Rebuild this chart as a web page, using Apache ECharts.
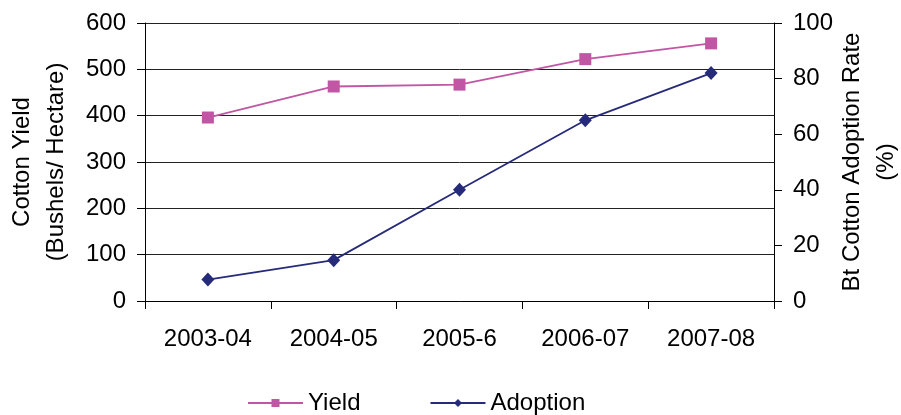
<!DOCTYPE html>
<html>
<head>
<meta charset="utf-8">
<script src="https://cdn.jsdelivr.net/npm/echarts@6/dist/echarts.min.js"></script>
<style>html,body{margin:0;padding:0;background:#fff}#c{width:901px;height:415px}</style>
</head>
<body>
<div id="c"></div>
<script>
const categories = ['2003-04', '2004-05', '2005-6', '2006-07', '2007-08'];
const yieldValues = [396, 463, 467, 522, 556];
const adoptionValues = [7.7, 14.7, 40, 65, 82];
const seriesNames = ['Yield', 'Adoption'];

const FONT = '"Liberation Sans", Arial, sans-serif';
const FS = 24;
const chart = echarts.init(document.getElementById('c'), null, {renderer: 'canvas'});
chart.setOption({
  animation: false,
  backgroundColor: '#fff',
  textStyle: {fontFamily: FONT, color: '#000'},
  grid: {left: 145, right: 127, top: 23, bottom: 114, containLabel: false, outerBoundsMode: 'none'},
  legend: {
    data: seriesNames,
    left: 247, top: 391, padding: 0,
    itemWidth: 55, itemHeight: 10, itemGap: 69,
    textStyle: {fontFamily: FONT, fontSize: FS, color: '#000'}
  },
  xAxis: {
    type: 'category',
    data: categories,
    boundaryGap: true,
    axisLine: {lineStyle: {color: '#000', width: 1}},
    axisTick: {show: true, length: 8, lineStyle: {color: '#000'}},
    axisLabel: {fontFamily: FONT, fontSize: FS, color: '#000', margin: 26},
    splitLine: {show: false}
  },
  yAxis: [
    {
      type: 'value', min: 0, max: 600, interval: 100,
      position: 'left',
      name: 'Cotton Yield\n(Bushels/ Hectare)',
      nameLocation: 'middle', nameGap: 72, nameRotate: 90, nameMoveOverlap: false,
      nameTextStyle: {fontFamily: FONT, fontSize: FS, color: '#000', lineHeight: 34},
      axisLine: {show: true, lineStyle: {color: '#000', width: 1}},
      axisTick: {show: true, length: 8, lineStyle: {color: '#000'}},
      axisLabel: {fontFamily: FONT, fontSize: FS, color: '#000', margin: 19},
      splitLine: {show: true, lineStyle: {color: '#222', width: 1}}
    },
    {
      type: 'value', min: 0, max: 100, interval: 20,
      position: 'right',
      name: 'Bt Cotton Adoption Rate\n(%)',
      nameLocation: 'middle', nameGap: 61, nameRotate: 90, nameMoveOverlap: false,
      nameTextStyle: {fontFamily: FONT, fontSize: FS, color: '#000', lineHeight: 34},
      axisLine: {show: true, lineStyle: {color: '#000', width: 1}},
      axisTick: {show: true, length: 8, lineStyle: {color: '#000'}},
      axisLabel: {fontFamily: FONT, fontSize: FS, color: '#000', margin: 19},
      splitLine: {show: false}
    }
  ],
  series: [
    {
      name: seriesNames[0], type: 'line', yAxisIndex: 0,
      data: yieldValues,
      symbol: 'rect', symbolSize: 12,
      lineStyle: {color: '#C056A4', width: 1.8},
      itemStyle: {color: '#C056A4'}
    },
    {
      name: seriesNames[1], type: 'line', yAxisIndex: 1,
      data: adoptionValues,
      symbol: 'diamond', symbolSize: [13, 14],
      lineStyle: {color: '#262A7A', width: 1.8},
      itemStyle: {color: '#262A7A'}
    }
  ]
});
</script>
</body>
</html>
